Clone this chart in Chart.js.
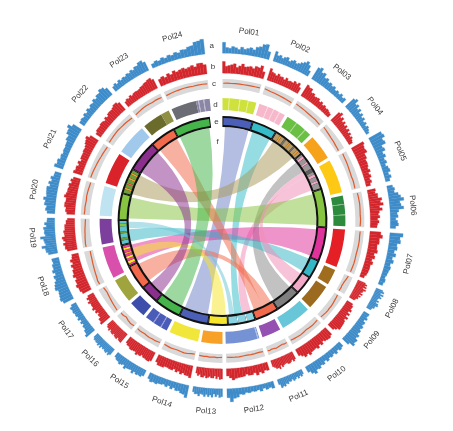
<!DOCTYPE html>
<html>
<head>
<meta charset="utf-8">
<title>Pol genome circos</title>
<script src="https://cdn.jsdelivr.net/npm/chart.js@4.4.1/dist/chart.umd.min.js"></script>
<style>
  html, body { margin: 0; padding: 0; background: #fff; }
  #wrap { width: 453px; height: 431px; position: relative; }
</style>
</head>
<body>
<div id="wrap"><canvas id="circos"></canvas></div>
<script>
// ---- data ----
const chrNames = ["Pol01","Pol02","Pol03","Pol04","Pol05","Pol06","Pol07","Pol08","Pol09","Pol10","Pol11","Pol12",
                  "Pol13","Pol14","Pol15","Pol16","Pol17","Pol18","Pol19","Pol20","Pol21","Pol22","Pol23","Pol24"];
const chrLengths = [16, 13, 13.5, 12, 16, 14.5, 18, 7.5, 12, 14.5, 9, 16, 10, 14, 11.5, 8, 11.5, 15, 12, 14, 15, 14.5, 13.5, 18.5];

// track a (blue histogram), 16 bins per chromosome
const trackA = [
  [72,38,34,46,40,30,47,35,44,52,42,63,70,90,96,52],
  [68,45,52,38,50,56,36,47,55,42,50,62,74,88,70,38],
  [88,98,72,80,55,62,45,52,40,48,32,40,30,42,28,36],
  [78,90,62,72,50,64,42,55,38,48,30,40,26,38,30,22],
  [92,100,78,86,55,64,42,52,36,44,30,42,48,32,44,30],
  [38,48,42,66,80,98,70,76,92,58,46,52,36,48,54,36],
  [88,70,76,55,60,44,58,40,52,36,44,38,34,28,36,30],
  [48,60,40,64,46,58,42,36,54,40,58,62,46,48,36,32],
  [42,38,48,34,50,44,56,48,60,55,72,64,82,78,88,55],
  [38,46,34,48,36,44,38,50,36,52,46,60,55,74,62,42],
  [32,44,34,46,32,42,48,34,44,40,52,46,60,54,62,36],
  [46,36,42,30,44,32,38,34,40,36,46,42,60,66,88,60],
  [52,58,40,54,36,58,44,56,42,58,46,42,58,46,48,36],
  [84,66,62,50,54,40,52,36,48,38,44,46,54,50,56,42],
  [42,54,50,56,46,62,46,50,52,64,44,52,58,48,46,36],
  [48,58,44,56,52,46,50,44,58,44,56,46,50,44,46,36],
  [74,60,58,46,48,36,46,34,48,38,46,44,50,46,52,36],
  [72,84,78,74,70,86,80,72,60,66,50,64,52,54,44,48],
  [62,74,76,98,70,76,80,100,66,72,70,76,56,68,52,50],
  [52,64,58,74,70,84,66,70,72,74,56,68,52,62,46,44],
  [62,50,54,40,44,36,42,40,44,46,58,55,74,76,92,66],
  [38,42,36,48,38,52,42,54,50,64,54,68,66,82,76,58],
  [36,46,34,48,38,46,42,52,46,58,50,64,62,78,80,62],
  [28,38,30,42,32,44,36,48,40,54,52,64,68,88,92,100]
];

// track b (red histogram), 16 bins per chromosome
const trackB = [
  [84,50,56,62,70,46,58,74,56,60,66,56,74,70,88,50],
  [88,66,62,52,68,56,58,46,64,50,54,52,68,58,72,46],
  [92,82,84,60,64,50,54,58,42,52,38,46,36,40,34,28],
  [82,94,66,78,56,68,50,62,46,58,40,52,36,46,34,28],
  [96,86,82,88,66,68,56,58,56,48,58,42,52,38,46,32],
  [58,52,68,66,92,80,98,70,88,66,58,68,52,62,52,48],
  [78,92,72,74,62,64,72,52,62,46,58,46,48,46,42,32],
  [58,74,62,78,56,82,68,66,56,74,52,68,56,58,46,42],
  [48,58,56,68,52,72,56,78,62,74,78,80,82,84,66,52],
  [68,78,76,72,62,78,66,82,72,74,76,88,72,82,66,52],
  [58,68,52,62,68,66,56,58,62,72,56,78,66,68,56,46],
  [58,52,68,56,72,52,62,62,52,64,66,68,72,82,66,52],
  [72,76,56,72,52,68,68,58,66,72,56,68,68,52,62,46],
  [88,78,76,66,78,62,72,56,68,66,62,62,72,72,72,56],
  [68,78,76,72,72,62,74,72,82,66,68,72,72,62,62,52],
  [78,76,72,62,78,76,72,62,72,72,68,56,72,62,62,52],
  [82,72,72,56,58,46,62,52,68,56,58,56,68,52,62,46],
  [68,78,78,88,76,78,66,82,72,72,62,72,56,68,52,48],
  [72,84,82,92,76,88,96,76,78,82,72,72,72,62,62,52],
  [58,68,66,78,78,72,72,88,78,72,72,66,72,56,66,52],
  [66,56,58,46,58,42,52,52,52,58,56,62,72,78,88,66],
  [42,52,52,52,58,56,48,62,52,66,68,66,72,82,82,68],
  [42,52,46,58,48,56,58,56,58,66,68,76,78,86,88,72],
  [52,62,48,66,52,72,58,66,72,62,68,76,62,82,82,68]
];

// track c (line inside grey band), 10 points per chromosome
const trackC = [
  [55,58,56,60,58,57,59,58,60,62],
  [70,65,60,58,55,52,50,48,45,42],
  [65,60,58,55,52,50,48,50,45,40],
  [60,55,50,45,40,38,35,30,28,25],
  [55,50,48,45,40,38,35,40,38,35],
  [55,58,60,62,60,58,56,60,58,55],
  [60,58,62,60,58,55,58,60,57,55],
  [50,45,40,35,30,28,25,30,28,25],
  [40,45,50,55,60,58,62,60,55,50],
  [45,50,55,52,48,55,60,58,55,50],
  [50,55,45,50,55,60,52,48,55,50],
  [40,35,38,40,35,38,42,40,38,35],
  [35,38,40,36,38,40,35,38,36,35],
  [30,35,45,50,45,40,42,45,40,35],
  [40,45,50,48,52,50,45,48,50,45],
  [45,50,55,50,45,35,30,40,45,40],
  [60,55,50,45,40,35,30,25,30,35],
  [60,65,55,50,45,40,35,30,28,25],
  [70,72,68,65,60,58,55,50,48,45],
  [65,60,62,58,55,60,58,55,50,48],
  [70,68,65,60,58,55,50,48,45,42],
  [55,58,60,62,65,60,58,55,50,45],
  [45,50,55,60,62,58,55,60,58,55],
  [50,55,58,60,62,60,58,60,62,58]
];

// track d: synteny blocks [chromosome, from, to]
const blocks = [
  [0,0,16],[1,0,13],[2,0,13.5],[3,0,12],[4,0,16],[5,0,14.5],[6,0,18],[7,0,7.5],[8,0,12],
  [9,0,14.5],[10,0,9],[11,0,16],[12,0,10],[13,0,14],[14,0,11.5],[15,0,8],[16,0,11.5],
  [17,0,15],[18,0,12],[19,0,14],[20,0,15],[21,0,14.5],[22,0,9.5],[22,9.5,13.5],[23,0,12],[23,12,18.5]
];
// thin lighter lines inside d blocks [chromosome, pos, width]
const blockStripes = [
  [0,3,0.3],[0,8,0.4],[0,12,0.3],[1,4,0.3],[1,7,0.3],[1,10,0.4],[2,5,0.3],[2,10,0.4],
  [5,4,0.3],[5,9,0.3],[11,0.5,0.4],[14,3,0.4],[14,7,0.4],[23,13,0.4],[23,15.5,0.4]
];

// track e: inner chromosomes of the compared genome
const innerLengths = [16, 13, 17.5, 21.5, 20.5, 18, 9.5, 9.5, 13.5, 12.5, 14.5, 10,
                      15.5, 14, 9.5, 13, 11.5, 13, 14, 13.5, 16.5, 13.5, 20];
// stripes inside inner chromosomes [segment, pos, width]
const innerStripes = [
  [2,2.5,1],[2,5.5,1.2],[2,9,0.8],[2,12,1],[2,15,1],
  [3,1,1.5],[3,5,1],[3,9.5,2],[3,13,1.5],[3,17,1.2],
  [10,4,0.6],[10,9,0.6],
  [16,1,1.5],[16,4,1.2],[16,6.5,1],[16,9,1.2],
  [17,2,1.5],[17,6,1],[17,10,1.5],
  [19,2,1],[19,5,1],[19,8,1],[19,11,1]
];

// links f: [segA, fromA, toA, segB, fromB, toB]
const links = [
  [0, 1, 15.5, 12, 0.5, 15],
  [1, 1, 12.5, 10, 6, 11],
  [2, 1, 16.5, 19, 0.5, 13],
  [3, 12, 21, 10, 0.5, 6],
  [3, 1.5, 8.5, 8, 0.5, 13],
  [4, 1, 20, 18, 0.5, 13.5],
  [5, 1, 17.5, 16, 0.5, 11],
  [6, 0.5, 9, 17, 0.5, 8],
  [7, 0.5, 9, 3, 8.5, 12],
  [9, 6, 12, 21, 0.5, 13],
  [9, 0.5, 6, 15, 0.5, 12.5],
  [11, 0.5, 9.5, 16, 3, 9],
  [13, 0.5, 13.5, 22, 0.5, 19.5],
  [14, 0.5, 9, 20, 0.5, 16],
  [17, 8.5, 12.5, 10, 11, 14]
];

const trackLetters = ["a", "b", "c", "d", "e", "f"];

// ---- styles ----
const NONE = "rgba(0,0,0,0)";
const blueBar = "#3d8bc9";
const redBar = "#d3262c";
const bandGrey = "#d9d9d9";
const lineOrange = "#e2582a";
const blockColors = ["#cfe13c","#f6b8ca","#6abf45","#f7a21b","#fdc914","#2e8b3d","#e42026","#a06d1e","#9b6a1f",
                     "#67c7d8","#9551b2","#7592d4","#f7a129","#f1e73a","#4a5cb8","#3c4eaa","#a0a43e",
                     "#d850ac","#7d3f9c","#bfe3f0","#d9222a","#a0c9ec","#6b6b2c","#8f8f45","#6c6c74","#8c86a6"];
const innerColors = ["#4a5fb5","#36bcc9","#b99c6b","#9c9698","#86c441","#e0329b","#36b7c6","#f2a8c6",
                     "#7f7f7f","#f26a4b","#8ad3e2","#f6e52b","#4a5fb5","#45b44a","#8b2f8d","#f26a4b",
                     "#e8459c","#5cc3cf","#86c441","#6d9e3e","#8b2f8d","#f26a4b","#45b44a"];
const innerStripeColors = ["#f0a030","#707070","#f0a030","#707070","#f0a030",
                           "#f2a8c6","#f2a8c6","#606060","#f2a8c6","#f2a8c6",
                           "#ffffff","#ffffff",
                           "#f6e52b","#f6e52b","#f0a030","#f6e52b",
                           "#6d9e3e","#6d9e3e","#86c441",
                           "#f0a030","#f26a4b","#f0a030","#f0a030"];
const linkColors = ["#6f80c8","#36bcc9","#a89a5a","#f08cb4","#8a8a8a","#86c441","#e0329b","#36b7c6",
                    "#f08cb4","#f26a4b","#f26a4b","#f6e52b","#45b44a","#8b2f8d","#6cc6d6"];

// ring layout, outer to inner (pixel thickness used as dataset weight)
const R_OUT = 183, R_IN = 96;
const GAP = 1.5, END_GAP = 6;
const INNER_LEAD = 0.5, INNER_GAP = 1, INNER_END_GAP = 7.5;

function lighten(hex, k) {
  const n = parseInt(hex.slice(1), 16);
  const c = [n >> 16, (n >> 8) & 255, n & 255].map(v => Math.round(v + (255 - v) * k));
  return "rgb(" + c.join(",") + ")";
}

// split one chromosome into coloured pieces
function paint(len, spans, stripes) {
  const cuts = new Set([0, len]);
  spans.forEach(s => { cuts.add(s[0]); cuts.add(s[1]); });
  stripes.forEach(s => { cuts.add(s[0]); cuts.add(s[0] + s[1]); });
  const pts = [...cuts].filter(p => p >= 0 && p <= len).sort((a, b) => a - b);
  const out = [];
  for (let k = 0; k < pts.length - 1; k++) {
    const mid = (pts[k] + pts[k + 1]) / 2;
    const st = stripes.find(s => mid > s[0] && mid < s[0] + s[1]);
    const sp = spans.find(s => mid > s[0] && mid < s[1]);
    out.push({ size: pts[k + 1] - pts[k], color: st ? st[2] : (sp ? sp[2] : NONE) });
  }
  return out;
}

function buildRing(lengths, gap, endGap, lead, pieceFn) {
  const data = [], colors = [], owner = [], heights = [];
  const push = (size, color, o, h) => { data.push(size); colors.push(color); owner.push(o); heights.push(h); };
  if (lead) push(lead, NONE, -1, 0);
  lengths.forEach((len, i) => {
    pieceFn(i, len).forEach(p => push(p.size, p.color, i, p.h === undefined ? 1 : p.h));
    push(i < lengths.length - 1 ? gap : endGap, NONE, -1, 0);
  });
  return { data, colors, owner, heights };
}

function histRing(values, color) {
  const r = buildRing(chrLengths, GAP, END_GAP, 0, (i, len) =>
    values[i].map(v => ({ size: len / values[i].length, color, h: v / 100 })));
  return { key: "hist", data: r.data, backgroundColor: r.colors, borderColor: r.colors,
           borderWidth: 0.3, owner: r.owner, heights: r.heights };
}

function spacer(w) {
  return { key: "spacer", data: [1], backgroundColor: [NONE], borderWidth: 0, weight: w };
}

const ringA = Object.assign(histRing(trackA, blueBar), { weight: 15 });
const ringB = Object.assign(histRing(trackB, redBar), { weight: 14 });

const bandRing = buildRing(chrLengths, GAP, END_GAP, 0, (i, len) => [{ size: len, color: bandGrey }]);
const ringC = { key: "c", data: bandRing.data, backgroundColor: bandRing.colors, borderWidth: 0,
                owner: bandRing.owner, weight: 9 };

const dRing = buildRing(chrLengths, GAP, END_GAP, 0, (i, len) => {
  const spans = [], stripes = [];
  blocks.forEach((b, j) => { if (b[0] === i) spans.push([b[1], b[2], blockColors[j]]); });
  blockStripes.forEach(s => {
    if (s[0] !== i) return;
    const host = spans.find(sp => s[1] >= sp[0] && s[1] < sp[1]);
    stripes.push([s[1], s[2], lighten(host ? host[2] : "#cccccc", 0.35)]);
  });
  return paint(len, spans, stripes);
});
const ringD = { key: "d", data: dRing.data, backgroundColor: dRing.colors, borderWidth: 0,
                owner: dRing.owner, weight: 12 };

const eRing = buildRing(innerLengths, INNER_GAP, INNER_END_GAP, INNER_LEAD, (i, len) => {
  const stripes = [];
  innerStripes.forEach((s, j) => { if (s[0] === i) stripes.push([s[1], s[2], innerStripeColors[j]]); });
  return paint(len, [[0, len, innerColors[i]]], stripes);
});
const ringE = { key: "e", data: eRing.data, backgroundColor: eRing.colors, borderWidth: 0,
                owner: eRing.owner, weight: 7 };

const datasets = [ringA, spacer(6), ringB, spacer(6), ringC, spacer(10), ringD, spacer(8), ringE];

// angle range of each owner (chromosome) in a ring
function ownerRanges(chart, idx) {
  const meta = chart.getDatasetMeta(idx), own = chart.data.datasets[idx].owner, r = [];
  meta.data.forEach((arc, i) => {
    const o = own[i];
    if (o < 0) return;
    if (!r[o]) r[o] = [arc.startAngle, arc.endAngle];
    else r[o][1] = arc.endAngle;
  });
  return r;
}

function ringIndex(key) { return datasets.findIndex(d => d.key === key); }

const circosPlugin = {
  id: "circos",
  afterDatasetUpdate(chart, args) {
    const ds = chart.data.datasets[args.index];
    if (!ds.heights) return;
    args.meta.data.forEach((arc, i) => {
      arc.outerRadius = arc.innerRadius + (arc.outerRadius - arc.innerRadius) * ds.heights[i];
    });
  },
  beforeDatasetsDraw(chart) {
    const ctx = chart.ctx;
    const eIdx = ringIndex("e");
    const meta = chart.getDatasetMeta(eIdx);
    const cx = meta.data[0].x, cy = meta.data[0].y;
    const segs = ownerRanges(chart, eIdx);
    const r = meta.controller.innerRadius - 2;
    const pos = (s, p) => segs[s][0] + (segs[s][1] - segs[s][0]) * p / innerLengths[s];

    // links (ribbons)
    ctx.save();
    ctx.globalAlpha = 0.52;
    links.forEach((l, i) => {
      const a1 = pos(l[0], l[1]), a2 = pos(l[0], l[2]);
      const b1 = pos(l[3], l[4]), b2 = pos(l[3], l[5]);
      ctx.beginPath();
      ctx.arc(cx, cy, r, a1, a2);
      ctx.quadraticCurveTo(cx, cy, cx + r * Math.cos(b1), cy + r * Math.sin(b1));
      ctx.arc(cx, cy, r, b1, b2);
      ctx.quadraticCurveTo(cx, cy, cx + r * Math.cos(a1), cy + r * Math.sin(a1));
      ctx.closePath();
      ctx.fillStyle = linkColors[i];
      ctx.fill();
    });
    ctx.restore();

    // black frame of inner chromosomes
    const ro = meta.controller.outerRadius + 2, ri = meta.controller.innerRadius - 2;
    const ext = 0.55 * Math.PI / 180;
    ctx.save();
    ctx.fillStyle = "#111";
    segs.forEach(s => {
      ctx.beginPath();
      ctx.arc(cx, cy, ro, s[0] - ext, s[1] + ext);
      ctx.arc(cx, cy, ri, s[1] + ext, s[0] - ext, true);
      ctx.closePath();
      ctx.fill();
    });
    ctx.restore();
  },
  afterDatasetsDraw(chart) {
    const ctx = chart.ctx;
    const cIdx = ringIndex("c");
    const cMeta = chart.getDatasetMeta(cIdx);
    const cx = cMeta.data[0].x, cy = cMeta.data[0].y;
    const chrs = ownerRanges(chart, cIdx);

    // line track c
    const ri = cMeta.controller.innerRadius + 1, ro = cMeta.controller.outerRadius - 1;
    ctx.save();
    ctx.strokeStyle = lineOrange;
    ctx.lineWidth = 1.2;
    ctx.lineJoin = "round";
    chrs.forEach((rg, i) => {
      const vals = trackC[i];
      const pad = (rg[1] - rg[0]) * 0.02;
      ctx.beginPath();
      vals.forEach((v, k) => {
        const a = rg[0] + pad + (rg[1] - rg[0] - 2 * pad) * k / (vals.length - 1);
        const rr = ri + (ro - ri) * v / 100;
        const x = cx + rr * Math.cos(a), y = cy + rr * Math.sin(a);
        if (k === 0) ctx.moveTo(x, y); else ctx.lineTo(x, y);
      });
      ctx.stroke();
    });
    ctx.restore();

    // chromosome names
    const aMeta = chart.getDatasetMeta(ringIndex("hist"));
    const rl = aMeta.controller.outerRadius + 8;
    ctx.save();
    ctx.font = '8px "Liberation Sans", Arial, sans-serif';
    ctx.fillStyle = "#3a3a3a";
    ctx.textAlign = "center";
    ctx.textBaseline = "middle";
    chrs.forEach((rg, i) => {
      const m = (rg[0] + rg[1]) / 2;
      const deg = ((m + Math.PI / 2) * 180 / Math.PI + 360) % 360;
      const rot = (deg > 90 && deg < 270) ? m - Math.PI / 2 : m + Math.PI / 2;
      ctx.save();
      ctx.translate(cx + rl * Math.cos(m), cy + rl * Math.sin(m));
      ctx.rotate(rot);
      ctx.fillText(chrNames[i], 0, 0);
      ctx.restore();
    });

    // track letters in the top gap
    const ringKeys = [0, 2, 4, 6, 8];
    const la = -Math.PI / 2 - 3.5 * Math.PI / 180;
    trackLetters.forEach((t, i) => {
      let r;
      if (i < ringKeys.length) {
        const c = chart.getDatasetMeta(ringKeys[i]).controller;
        r = (c.innerRadius + c.outerRadius) / 2;
      } else {
        r = chart.getDatasetMeta(ringIndex("e")).controller.innerRadius - 17;
      }
      ctx.fillText(t, cx + r * Math.cos(la), cy + r * Math.sin(la));
    });
    ctx.restore();
  }
};

new Chart(document.getElementById("circos"), {
  type: "doughnut",
  data: { labels: [], datasets },
  options: {
    responsive: true,
    maintainAspectRatio: false,
    animation: false,
    events: [],
    cutout: (R_IN / R_OUT * 100) + "%",
    layout: { padding: { left: 39.5, right: 47.5, top: 38, bottom: 27 } },
    elements: { arc: { borderWidth: 0, offset: 0, hoverOffset: 0 } },
    plugins: { legend: { display: false }, tooltip: { enabled: false } }
  },
  plugins: [circosPlugin]
});
</script>
</body>
</html>
